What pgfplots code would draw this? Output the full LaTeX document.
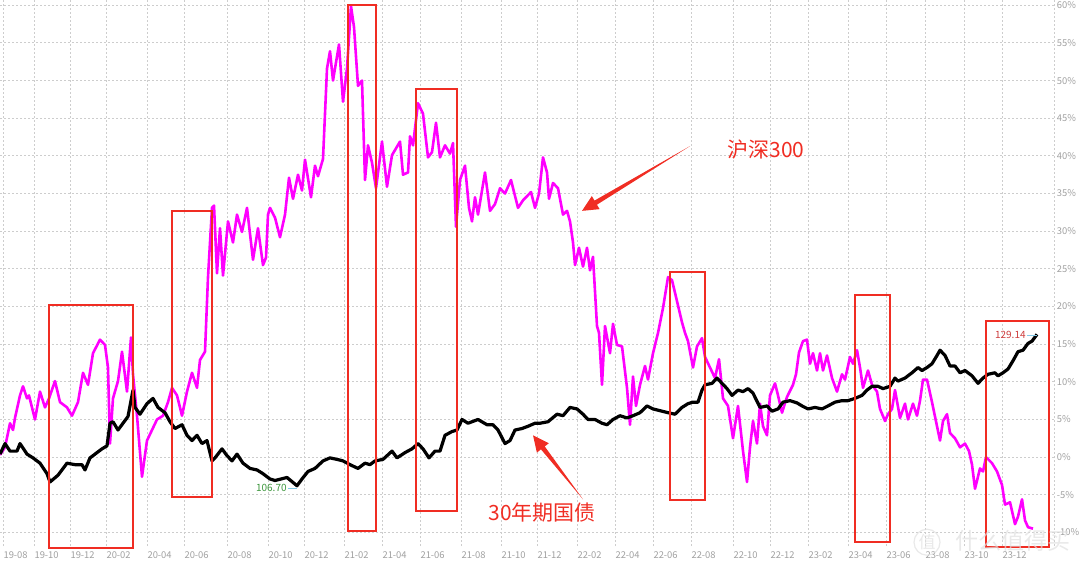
\documentclass[border=0pt]{standalone}
\usepackage{fontspec}
\setmainfont{Noto Sans CJK SC}
\usepackage{pgfplots}
\pgfplotsset{compat=1.18}
\usetikzlibrary{calc}
\definecolor{hs}{RGB}{255,0,255}
\definecolor{boxred}{RGB}{240,45,35}
\definecolor{tickc}{RGB}{160,160,160}
\definecolor{gridc}{RGB}{205,205,205}
\definecolor{lowgreen}{RGB}{60,150,60}
\definecolor{endred}{RGB}{205,60,60}
\definecolor{leader}{RGB}{130,200,230}

% x = trading-day index (about one per pixel of the reference), y = return in %
\pgfplotstableread{
x y
0 0.3
5 1.3
10 4.5
13 3.6
15 5.2
20 8.2
23 9.4
27 7.8
29 8.2
35 5.0
40 8.7
45 6.6
49 7.8
55 10.1
60 7.3
67 6.6
72 5.5
78 7.3
83 11.2
88 9.6
93 13.8
100 15.6
105 14.9
108 11.9
110 1.8
113 7.8
118 10.1
122 14.0
127 8.7
131 15.9
133 11.0
137 5.5
142 -2.6
147 2.2
152 3.6
157 5.0
163 5.5
168 7.3
172 9.2
177 8.2
182 5.5
187 8.7
192 11.2
197 9.2
200 12.9
205 14.0
208 23.9
212 33.1
214 33.4
217 24.4
220 30.4
223 24.1
228 31.3
233 28.5
237 32.2
242 29.9
247 33.1
253 26.2
258 30.4
263 25.5
266 26.5
268 32.2
270 33.1
275 31.8
280 29.2
285 32.2
289 37.1
293 34.3
298 37.5
302 35.4
305 39.5
311 34.5
315 38.7
318 37.3
323 39.6
327 51.6
330 53.9
333 50.0
339 54.8
343 47.2
347 51.6
351 59.9
354 57.1
358 49.3
362 50.0
365 36.8
368 41.4
372 39.1
376 35.7
382 41.9
387 35.9
392 40.1
396 41.0
400 41.9
403 37.5
408 37.8
410 42.6
413 41.4
418 47.0
423 45.6
428 39.8
432 40.5
436 44.4
440 39.8
445 41.4
450 40.3
453 41.7
456 30.6
460 36.8
465 38.7
469 33.1
472 31.3
475 34.5
478 32.2
485 37.8
490 32.7
495 33.6
500 35.7
505 35.0
511 36.8
518 33.1
523 34.1
531 35.2
535 33.1
539 35.0
543 39.8
547 37.8
549 34.3
553 36.4
558 35.7
563 32.2
567 32.7
570 31.3
573 28.5
575 25.5
579 27.8
583 25.3
587 27.8
590 24.8
593 26.6
597 17.4
599 16.5
602 9.6
605 17.4
610 13.8
613 17.7
617 14.9
622 14.7
627 9.2
630 4.3
633 10.7
636 6.8
640 9.6
645 12.1
648 10.3
653 13.8
658 16.5
663 19.8
668 23.9
672 23.5
677 20.7
682 17.9
685 16.5
688 15.4
693 11.9
697 14.7
702 15.8
705 13.3
710 11.9
715 10.5
719 13.0
723 7.8
728 6.8
733 2.5
738 6.8
743 0.8
747 -3.3
750 1.3
753 4.8
757 1.8
760 7.1
763 4.1
767 2.9
770 8.2
775 9.8
778 8.2
782 5.9
787 8.0
793 9.6
796 11.0
799 13.9
803 15.4
807 15.6
810 12.4
813 13.8
817 11.5
820 13.8
823 11.5
827 13.5
832 10.5
837 8.7
842 11.0
845 10.3
850 13.3
853 12.4
857 14.2
860 11.9
863 9.2
868 11.5
872 9.6
877 8.7
880 6.4
885 4.8
888 5.7
892 6.4
895 8.9
900 5.2
905 7.1
908 5.0
913 7.1
917 5.5
920 7.5
923 10.3
927 10.3
932 7.3
937 4.1
940 2.2
943 4.8
947 5.7
950 3.2
955 2.5
960 1.3
965 1.8
969 0.8
972 -1.0
975 -4.2
980 -1.5
983 -1.9
986 0.0
992 -0.8
997 -1.9
1002 -3.7
1005 -6.3
1010 -6.0
1015 -8.9
1018 -7.9
1022 -5.6
1025 -8.4
1028 -9.3
1033 -9.5
}\hsdata

\pgfplotstableread{
x y
0 0.4
5 1.8
10 0.8
17 0.8
20 1.8
27 0.4
33 -0.1
40 -0.8
47 -2.2
50 -3.3
58 -2.4
67 -0.8
75 -1.0
82 -1.0
85 -1.7
90 -0.1
97 0.6
102 1.1
107 1.5
110 4.5
113 4.7
118 3.6
123 4.5
128 5.4
133 8.9
135 6.6
140 5.7
147 7.1
153 7.8
158 6.6
165 5.9
170 4.7
175 3.8
182 4.3
187 2.9
192 2.2
197 2.9
202 1.8
207 2.2
212 -0.5
215 -0.1
222 1.1
227 0.2
232 -0.5
237 0.4
243 -0.8
250 -1.5
257 -1.7
263 -2.2
270 -2.9
275 -3.1
287 -2.7
297 -3.8
302 -2.9
308 -1.9
315 -1.5
323 -0.5
330 -0.1
337 -0.3
343 -0.5
350 -1.0
358 -1.5
365 -0.8
370 -1.0
375 -0.5
383 -0.3
392 0.8
397 -0.1
405 0.6
412 1.1
418 1.8
423 1.1
429 -0.1
435 0.8
440 0.8
445 2.9
452 3.4
457 3.6
462 5.0
468 4.5
478 5.0
487 4.3
493 4.3
498 3.6
505 1.8
510 2.2
515 3.6
522 3.8
528 4.1
535 4.5
540 4.5
548 4.7
557 5.7
563 5.5
570 6.6
577 6.4
583 5.7
588 5.0
595 5.0
602 4.5
607 4.3
613 5.0
620 5.5
627 5.2
633 5.5
640 5.9
647 6.8
653 6.4
662 6.1
668 5.9
675 5.7
682 6.6
688 7.1
693 7.3
698 7.3
702 8.9
705 9.6
712 9.8
717 10.5
722 9.8
727 9.1
732 8.2
738 8.9
743 8.7
748 9.1
753 8.5
760 6.6
767 6.8
772 6.1
778 6.4
783 7.3
790 7.5
797 7.2
802 6.8
808 6.4
815 6.6
822 6.4
828 6.8
835 7.3
842 7.5
848 7.5
855 7.8
862 8.2
867 8.9
872 9.4
878 9.4
883 9.1
890 9.4
895 10.5
898 10.1
905 10.5
912 11.2
918 11.9
922 11.5
927 11.9
932 12.4
937 13.5
940 14.2
945 13.5
950 12.1
955 12.1
960 11.2
965 11.5
972 10.8
978 9.8
983 10.5
988 11.0
995 11.2
998 10.8
1003 11.2
1008 11.7
1013 12.8
1018 14.0
1023 14.2
1028 15.1
1032 15.4
1037 16.3
}\bonddata

\begin{document}
\begin{tikzpicture}
\begin{axis}[
  at={(0pt,0pt)}, anchor=south west,
  scale only axis, width=527pt, height=273pt,
  xmin=0, xmax=1054, ymin=-11.8, ymax=60.7,
  axis x line*=bottom, axis y line*=right,
  x axis line style={draw=none},
  y axis line style={draw=gridc, dash pattern=on 1pt off 1pt, line width=0.5pt},
  clip=false,
  xtick={3,34,70,106,147,184,227,268,304,344,382,420,461,501,537,577,615,653,691,733,770,808,848,886,925,964,1002},
  xticklabels={19-08,19-10,19-12,20-02,20-04,20-06,20-08,20-10,20-12,21-02,21-04,21-06,21-08,21-10,21-12,22-02,22-04,22-06,22-08,22-10,22-12,23-02,23-04,23-06,23-08,23-10,23-12},
  ytick={-10,-5,0,5,10,15,20,25,30,35,40,45,50,55,60},
  yticklabels={-10\%,-5\%,0\%,5\%,10\%,15\%,20\%,25\%,30\%,35\%,40\%,45\%,50\%,55\%,60\%},
  major tick length=0pt,
  tick style={draw=none},
  grid=major,
  major grid style={draw=gridc, dash pattern=on 1pt off 1pt, line width=0.5pt},
  ticklabel style={font=\fontsize{4.7}{5}\selectfont, text=tickc},
  xticklabel style={anchor=center, xshift=6.3pt, yshift=-4.5pt},
  yticklabel style={anchor=west, inner sep=0pt, xshift=1.2pt},
]
\addplot[hs, line width=1.3pt, line join=round] table[x=x,y=y] {\hsdata};
\addplot[black, line width=1.6pt, line join=round] table[x=x,y=y] {\bonddata};

% red boxes
\draw[boxred, line width=1pt] (axis cs:49,20.2) rectangle (axis cs:133,-12.0);
\draw[boxred, line width=1pt] (axis cs:172,32.7) rectangle (axis cs:212,-5.3);
\draw[boxred, line width=1pt] (axis cs:348,60.0) rectangle (axis cs:376,-9.8);
\draw[boxred, line width=1pt] (axis cs:416,48.9) rectangle (axis cs:457,-7.2);
\draw[boxred, line width=1pt] (axis cs:670,24.6) rectangle (axis cs:705,-5.7);
\draw[boxred, line width=1pt] (axis cs:855,21.5) rectangle (axis cs:890,-11.3);
\draw[boxred, line width=1pt] (axis cs:986,18.1) rectangle (axis cs:1049,-11.9);

% value labels
\draw[leader, line width=0.4pt] (axis cs:288,-4.1) -- (axis cs:297,-4.1);
\node[anchor=east, inner sep=0.5pt, text=lowgreen, font=\fontsize{5}{6}\selectfont] at (axis cs:288,-4.1) {106.70};
\draw[leader, line width=0.4pt] (axis cs:1027,16.2) -- (axis cs:1037,16.2);
\node[anchor=east, inner sep=0.5pt, text=endred, font=\fontsize{5}{6}\selectfont] at (axis cs:1027,16.2) {129.14};

% annotations
\node[anchor=west, inner sep=0pt, text=boxred, font=\fontsize{10.5}{12}\selectfont] at (axis cs:727,40.8) {沪深300};
\node[anchor=center, inner sep=0pt, text=boxred, font=\fontsize{10.5}{12}\selectfont] at (axis cs:542,-7.4) {30年期国债};

\coordinate (T1) at (axis cs:690,41.3);
\coordinate (H1) at (axis cs:582,32.7);
\coordinate (B1) at ($(H1)!8pt!(T1)$);
\fill[boxred] (T1) -- ($(B1)!1.2pt!90:(T1)$) -- ($(B1)!3.8pt!90:(T1)$) -- (H1) -- ($(B1)!3.8pt!-90:(T1)$) -- ($(B1)!1.2pt!-90:(T1)$) -- cycle;

\coordinate (T2) at (axis cs:583,-5.6);
\coordinate (H2) at (axis cs:533,2.9);
\coordinate (B2) at ($(H2)!8pt!(T2)$);
\fill[boxred] (T2) -- ($(B2)!1.2pt!90:(T2)$) -- ($(B2)!3.8pt!90:(T2)$) -- (H2) -- ($(B2)!3.8pt!-90:(T2)$) -- ($(B2)!1.2pt!-90:(T2)$) -- cycle;

% watermark
\draw[white!75!gray, opacity=0.7, line width=0.6pt] (axis cs:927,-11.3) circle[radius=6.5pt];
\node[text=white!75!gray, opacity=0.7, font=\fontsize{8.5}{9}\selectfont] at (axis cs:927,-11.3) {值};
\node[anchor=west, inner sep=0pt, text=white!75!gray, opacity=0.7, font=\fontsize{11.5}{12}\selectfont] at (axis cs:955,-11.1) {什么值得买};
\end{axis}
\pgfresetboundingbox
\path[use as bounding box] (0pt,-11pt) rectangle (540pt,273pt);
\end{tikzpicture}
\end{document}
